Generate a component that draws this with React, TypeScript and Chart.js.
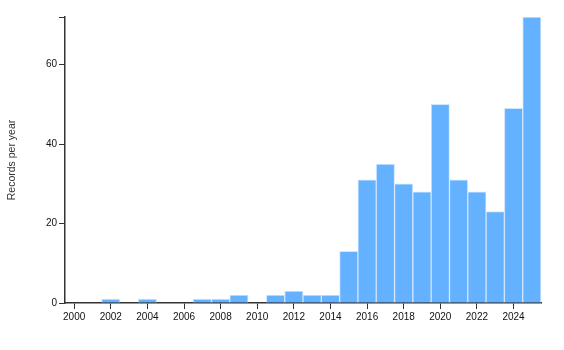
import React, { useEffect, useRef } from "react";
import { Chart, registerables } from "chart.js";

Chart.register(...registerables);

const years: string[] = [
  "2000","2001","2002","2003","2004","2005","2006","2007","2008","2009",
  "2010","2011","2012","2013","2014","2015","2016","2017","2018","2019",
  "2020","2021","2022","2023","2024","2025",
];
const records: number[] = [
  0, 0, 1, 0, 1, 0, 0, 1, 1, 2,
  0, 2, 3, 2, 2, 13, 31, 35, 30, 28,
  50, 31, 28, 23, 49, 72,
];
const yTickValues: number[] = [0, 20, 40, 60, 72];
const yTitle = "Records per year";

const FONT = "Liberation Sans, Arial, sans-serif";

export default function App() {
  const ref = useRef<HTMLCanvasElement | null>(null);
  useEffect(() => {
    document.body.style.margin = "0";
    const ctx = ref.current!;
    const chart = new Chart(ctx, {
      type: "bar",
      data: {
        labels: years,
        datasets: [
          {
            data: records,
            backgroundColor: "#64b1ff",
            borderColor: "#cfe6ff",
            borderWidth: 1,
            barPercentage: 1,
            categoryPercentage: 1,
          },
        ],
      },
      options: {
        animation: false,
        responsive: false,
        maintainAspectRatio: false,
        layout: { padding: { top: 17, right: 23, left: 0, bottom: 0 } },
        plugins: { legend: { display: false }, tooltip: { enabled: false } },
        scales: {
          x: {
            offset: true,
            border: { color: "#333", width: 1.5 },
            grid: { display: true, drawOnChartArea: false, tickLength: 6, color: "#333", offset: false },
            ticks: {
              autoSkip: false,
              maxRotation: 0,
              padding: 2,
              color: "#111",
              font: { family: FONT, size: 10 },
              callback: (_v: any, i: number) => (Number(years[i]) % 2 === 0 ? years[i] : null),
            },
            afterFit: (s: any) => { s.height = 47; },
          },
          y: {
            min: 0,
            max: 72,
            border: { color: "#333", width: 1.5 },
            grid: { display: true, drawOnChartArea: false, tickLength: 6, color: "#333" },
            afterBuildTicks: (s: any) => { s.ticks = yTickValues.map((v) => ({ value: v })); },
            ticks: {
              padding: 2,
              color: "#111",
              font: { family: FONT, size: 10 },
              callback: (v: any) => (v === 72 ? "" : String(v)),
            },
            title: {
              display: true,
              text: yTitle,
              color: "#333",
              padding: { top: 6, bottom: 0 },
              font: { family: FONT, size: 10.5 },
            },
            afterFit: (s: any) => { s.width = 65; },
          },
        },
      },
    });
    return () => chart.destroy();
  }, []);
  return <canvas ref={ref} width={564} height={350} style={{ display: "block" }} />;
}
